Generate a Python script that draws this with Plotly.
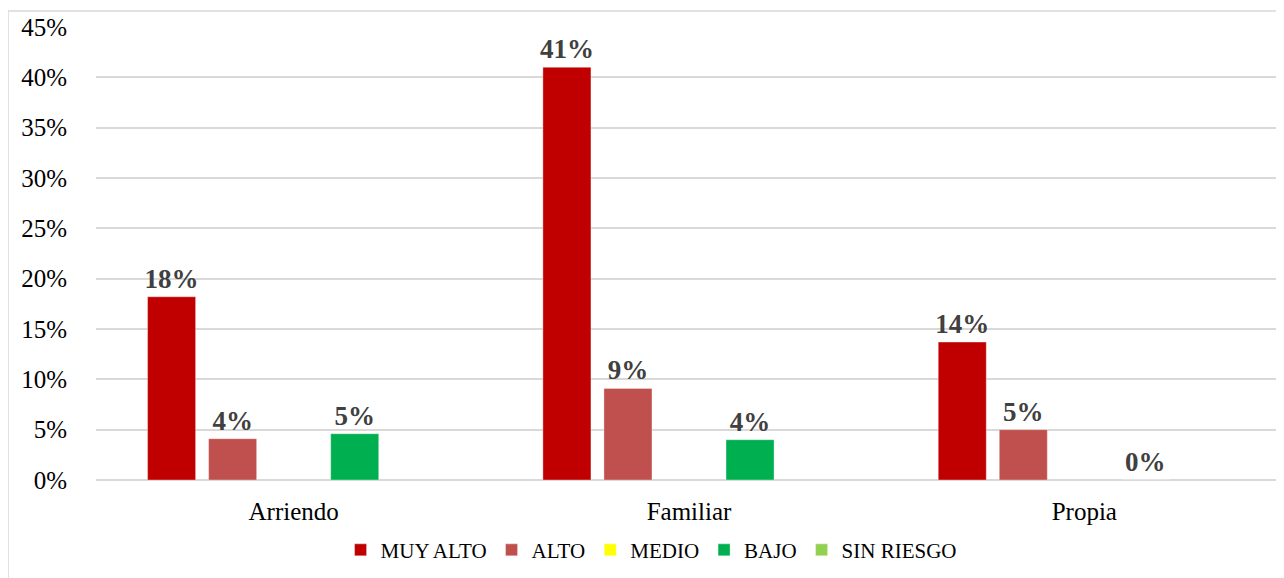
import plotly.graph_objects as go

# ── data ────────────────────────────────────────────────────────────────────
categories = ["Arriendo", "Familiar", "Propia"]
series_names = ["MUY ALTO", "ALTO", "MEDIO", "BAJO", "SIN RIESGO"]
muy_alto = [0.182, 0.410, 0.137]
alto = [0.041, 0.091, 0.050]
medio = [None, None, None]
bajo = [0.046, 0.040, 0.0]
sin_riesgo = [None, None, None]
y_ticks = [0, 0.05, 0.10, 0.15, 0.20, 0.25, 0.30, 0.35, 0.40, 0.45]

COLORS = ["#C00000", "#C0504D", "#FFFF00", "#00B050", "#92D050"]
SERIF = "Liberation Serif, Times New Roman, serif"
LABEL_GREY = "#404040"
GRID = "#D9D9D9"

fig = go.Figure()
for name, vals, col in zip(series_names, [muy_alto, alto, medio, bajo, sin_riesgo], COLORS):
    fig.add_trace(go.Bar(
        x=categories, y=vals, name=name,
        marker=dict(color=col, line=dict(color="rgba(255,255,255,0.35)", width=1)),
        texttemplate="%{y:.0%}",
        textposition="outside",
        constraintext="none",
        textfont=dict(family=SERIF, size=27, color=LABEL_GREY, weight="bold"),
        cliponaxis=False,
    ))

# page body has an 8px margin, so the figure is drawn 8px smaller and offset
fig.update_layout(
    width=1276, height=570,
    margin=dict(l=88, r=2, t=19, b=98),
    plot_bgcolor="white", paper_bgcolor="white",
    font=dict(family=SERIF, color="black"),
    barmode="group", bargap=0.228, bargroupgap=0.213,
    showlegend=True,
    legend=dict(
        orientation="h", x=0.468, xanchor="center", y=-0.155, yanchor="middle",
        font=dict(family=SERIF, size=21, color="black"),
        itemwidth=30, tracegroupgap=0,
    ),
)
fig.update_xaxes(
    showgrid=False, showline=False, zeroline=False, ticks="",
    tickfont=dict(family=SERIF, size=25, color="black"),
    ticklabelstandoff=14,
)
fig.update_yaxes(
    range=[0, 0.45], tickvals=y_ticks, tickformat=".0%",
    showgrid=True, gridcolor=GRID, gridwidth=1.5,
    zeroline=True, zerolinecolor=GRID, zerolinewidth=1.5,
    showline=False, ticks="",
    tickfont=dict(family=SERIF, size=25, color="black"),
    ticklabelstandoff=28,
)

# outer chart border (light grey frame, partly cropped in the reference)
fig.add_shape(type="rect", xref="paper", yref="paper",
              x0=-0.0742, x1=1.02, y0=-0.25, y1=1.0353,
              line=dict(color="#D9D9D9", width=1.5), layer="below")

fig.write_html("out.html")
